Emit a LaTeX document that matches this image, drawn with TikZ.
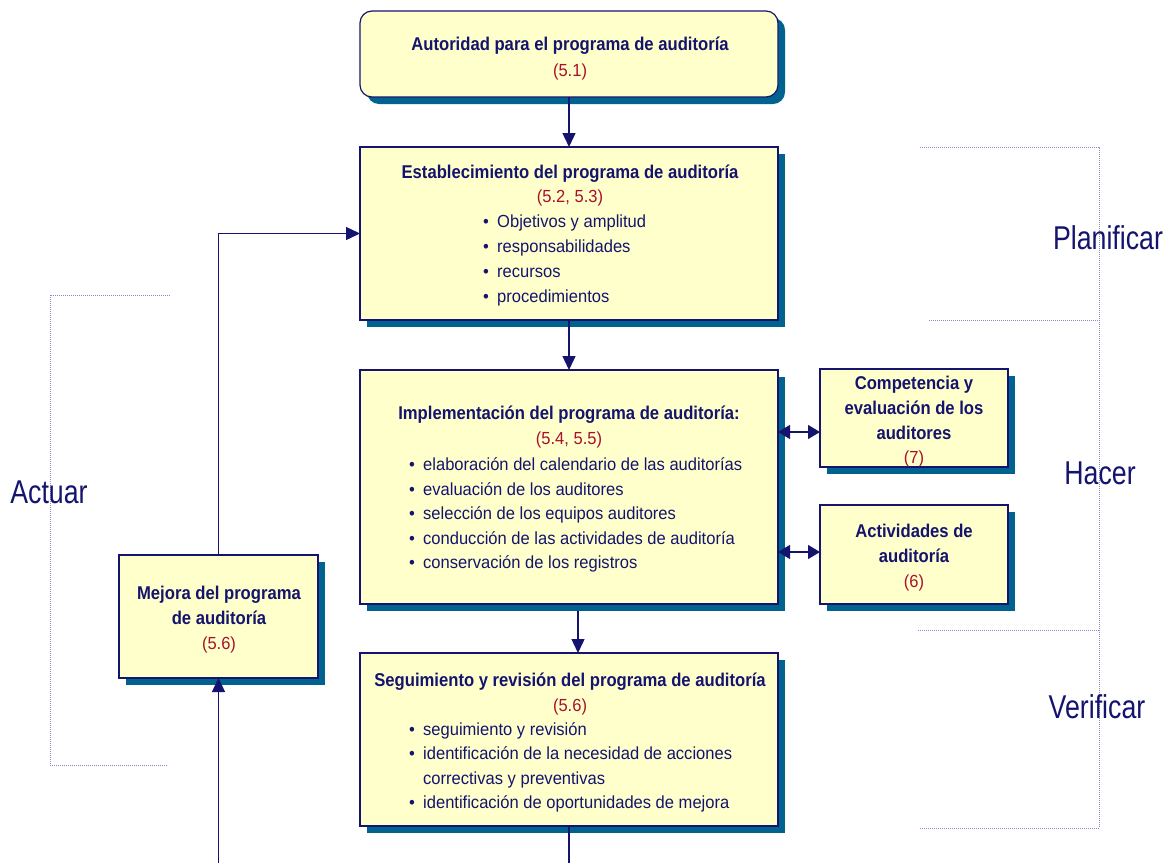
\documentclass[tikz,border=0pt]{standalone}
\usepackage{fontspec}
\setmainfont{Liberation Sans}
\newfontfamily\labfont[FakeStretch=0.81]{Liberation Sans}
\newfontfamily\ttlfont[FakeStretch=0.9]{Liberation Sans}
\newfontfamily\txtfont[FakeStretch=0.945]{Liberation Sans}
\usetikzlibrary{arrows.meta,shadows}
\definecolor{navy}{HTML}{14146E}
\definecolor{boxfill}{HTML}{FFFFCC}
\definecolor{shadowc}{HTML}{00628F}
\definecolor{refred}{HTML}{A8102C}
\definecolor{dotc}{HTML}{8A8AC0}
\newcommand{\bul}{\makebox[14pt][l]{•}}
\tikzset{
 box/.style={draw=navy, line width=1.2pt, fill=boxfill, inner sep=0pt, outer sep=0pt,
   drop shadow={shadow xshift=7pt, shadow yshift=-7pt, fill=shadowc, opacity=1}},
 ttl/.style={anchor=base, text=navy, font=\ttlfont\bfseries\fontsize{18.5}{20}\selectfont, inner sep=0pt},
 ref/.style={anchor=base, text=refred, font=\txtfont\fontsize{17.5}{20}\selectfont, inner sep=0pt},
 itm/.style={anchor=base west, text=navy, font=\txtfont\fontsize{17.5}{20}\selectfont, inner sep=0pt},
 phase/.style={text=navy, font=\labfont\fontsize{33}{33}\selectfont, inner sep=0pt},
 conn/.style={draw=navy, line width=1.4pt},
 tip/.style={-{Triangle[width=13pt,length=14pt]}},
 dtip/.style={{Triangle[width=14pt,length=12pt]}-{Triangle[width=14pt,length=12pt]}},
 brk/.style={draw=dotc, line width=1pt, densely dotted},
}
\begin{document}
\begin{tikzpicture}[x=1pt,y=-1pt]
\useasboundingbox (0,0) rectangle (1169,863);
% boxes
\node[box, rounded corners=12pt, minimum width=418pt, minimum height=86pt] (aut) at (569,54) {};
\node[box, minimum width=418pt, minimum height=173pt] (est) at (569,233.5) {};
\node[box, minimum width=418pt, minimum height=234pt] (imp) at (569,487) {};
\node[box, minimum width=418pt, minimum height=173pt] (seg) at (569,739.5) {};
\node[box, minimum width=188pt, minimum height=98pt] (comp) at (914,418) {};
\node[box, minimum width=188pt, minimum height=99pt] (act) at (914,554.5) {};
\node[box, minimum width=199pt, minimum height=123pt] (mej) at (218.5,616.5) {};
% box 1 text
\node[ttl] (aut1) at (570,50) {Autoridad para el programa de auditoría};
\node[ref] (aut2) at (570,76) {(5.1)};
% box 2 text
\node[ttl] (est1) at (570,178) {Establecimiento del programa de auditoría};
\node[ref] (est2) at (570,202.5) {(5.2, 5.3)};
\node[itm] (est3) at (483,227) {\bul Objetivos y amplitud};
\node[itm] (est4) at (483,252) {\bul responsabilidades};
\node[itm] (est5) at (483,277) {\bul recursos};
\node[itm] (est6) at (483,302) {\bul procedimientos};
% box 3 text
\node[ttl] (imp1) at (569,419) {Implementación del programa de auditoría:};
\node[ref] (imp2) at (569,444) {(5.4, 5.5)};
\node[itm] (imp3) at (409,470) {\bul elaboración del calendario de las auditorías};
\node[itm] (imp4) at (409,495) {\bul evaluación de los auditores};
\node[itm] (imp5) at (409,519.5) {\bul selección de los equipos auditores};
\node[itm] (imp6) at (409,544) {\bul conducción de las actividades de auditoría};
\node[itm] (imp7) at (409,568.5) {\bul conservación de los registros};
% box 4 text
\node[ttl] (seg1) at (570,686) {Seguimiento y revisión del programa de auditoría};
\node[ref] (seg2) at (570,711) {(5.6)};
\node[itm] (seg3) at (409,735) {\bul seguimiento y revisión};
\node[itm] (seg4) at (409,759.5) {\bul identificación de la necesidad de acciones};
\node[itm] (seg5) at (423,784) {correctivas y preventivas};
\node[itm] (seg6) at (409,808.5) {\bul identificación de oportunidades de mejora};
% competencia
\node[ttl] (comp1) at (914,389) {Competencia y};
\node[ttl] (comp2) at (914,414) {evaluación de los};
\node[ttl] (comp3) at (914,439) {auditores};
\node[ref] (comp4) at (914,463) {(7)};
% actividades
\node[ttl] (act1) at (914,537) {Actividades de};
\node[ttl] (act2) at (914,562) {auditoría};
\node[ref] (act3) at (914,587) {(6)};
% mejora
\node[ttl] (mej1) at (219,599) {Mejora del programa};
\node[ttl] (mej2) at (219,624) {de auditoría};
\node[ref] (mej3) at (219,649) {(5.6)};
% connectors
\draw[conn,tip] (aut.south) -- (est.north);
\draw[conn,tip] (est.south) -- (imp.north);
\draw[conn,tip] ([shift={(9,7)}]imp.south) -- ([xshift=9pt]seg.north);
\coordinate (segout) at (569,863);
\draw[conn] (seg.south) -- (segout);
\coordinate (mejin) at (218.5,863);
\draw[conn,tip] (mejin) -- (mej.south);
\draw[conn,tip] (mej.north) |- (est.west);
\draw[conn,dtip] (imp.east |- 0,432) -- (comp.west |- 0,432);
\draw[conn,dtip] (imp.east |- 0,552) -- (act.west |- 0,552);
% phase brackets
\draw[brk] (920,147) -- (1099,147) -- (1099,828) -- (920,828);
\draw[brk] (929,320) -- (1099,320);
\draw[brk] (918,630) -- (1099,630);
\draw[brk] (170,295) -- (50,295) -- (50,765) -- (168,765);
\node[phase] (plan) at (1108,238) {Planificar};
\node[phase] (hacer) at (1100,473) {Hacer};
\node[phase] (verif) at (1097,707) {Verificar};
\node[phase] (actuar) at (49,492) {Actuar};
\end{tikzpicture}
\end{document}
